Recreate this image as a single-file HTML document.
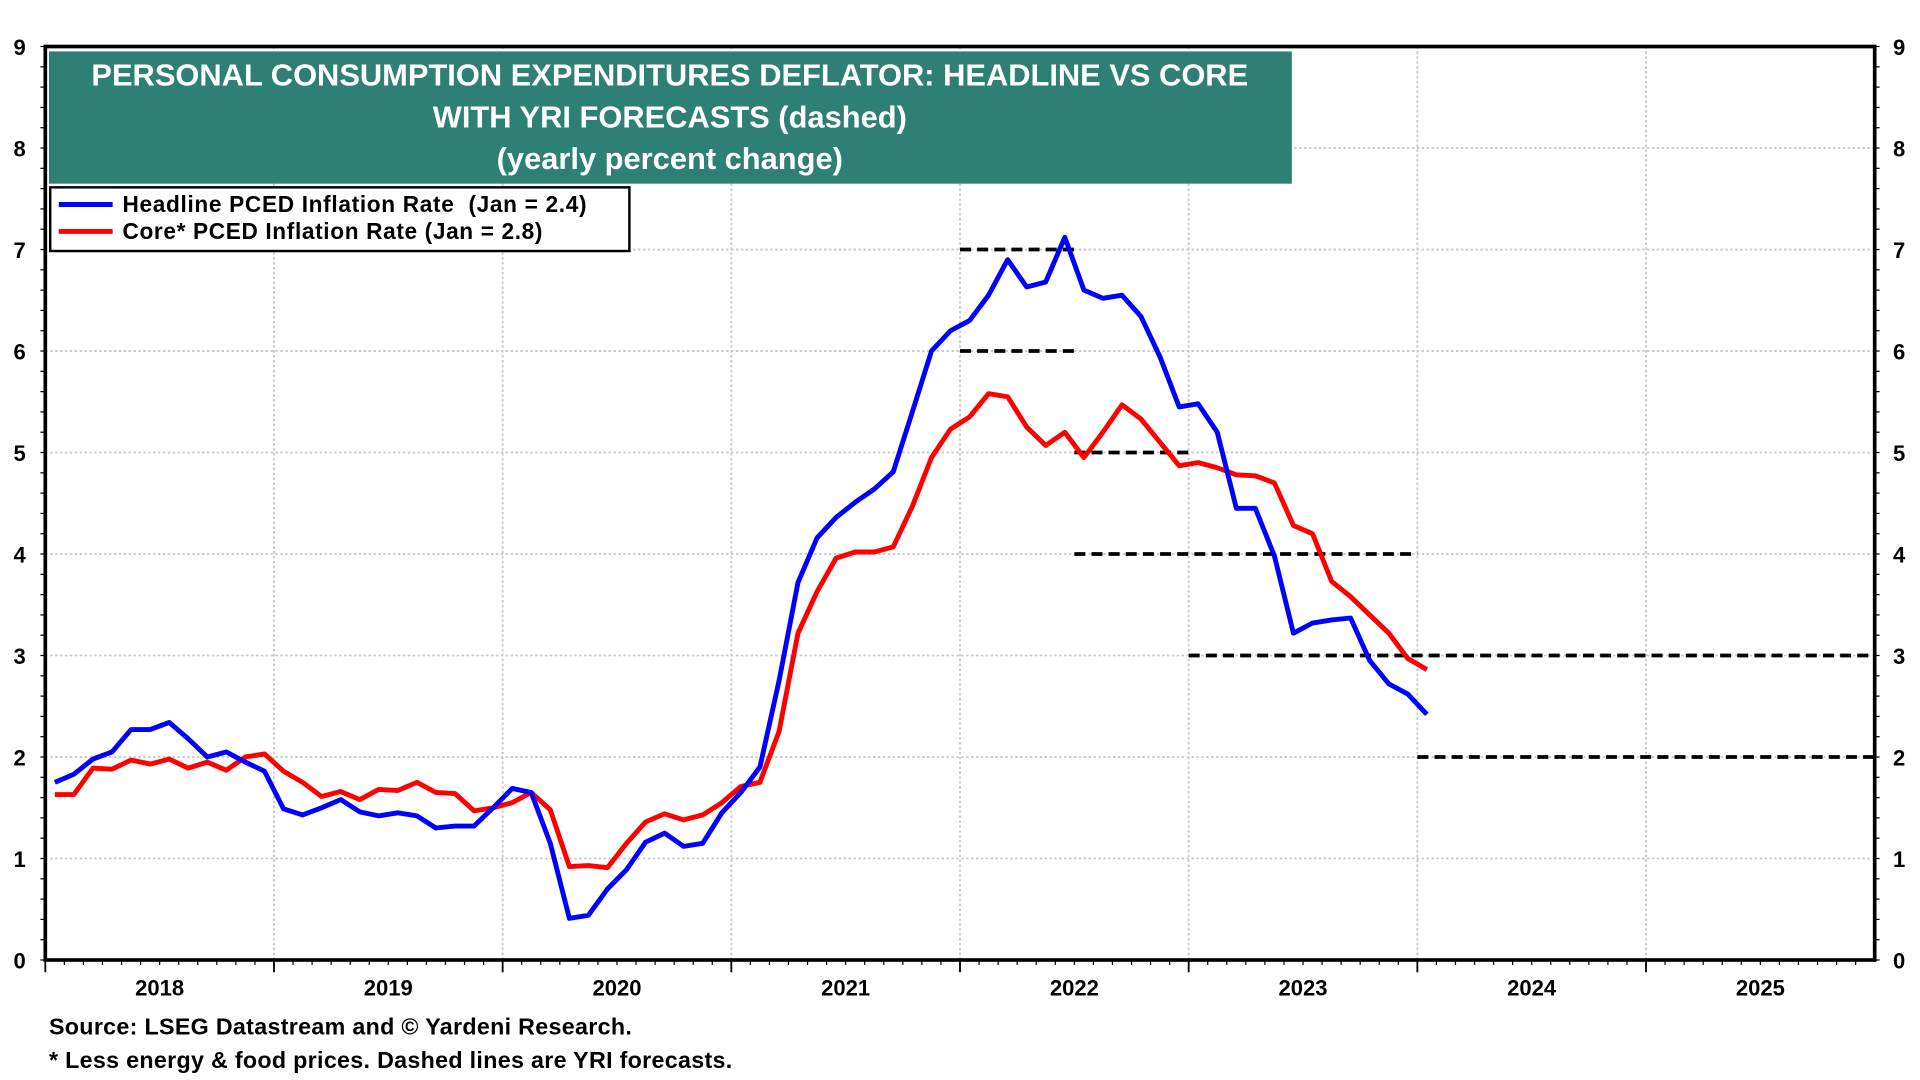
<!DOCTYPE html>
<html><head><meta charset="utf-8"><style>
html,body{margin:0;padding:0;background:#fff;width:1920px;height:1080px;overflow:hidden}
svg{display:block}
text{font-family:"Liberation Sans",sans-serif;font-weight:bold}
</style></head><body>
<svg id="chart" width="1920" height="1080" viewBox="0 0 1568 882" preserveAspectRatio="none" xmlns="http://www.w3.org/2000/svg">
<g id="grid"></g>
<g id="ticks"></g>
<g id="forecasts"></g>
<g id="series"></g>
<rect x="37" y="38" width="1494" height="746" fill="none" stroke="#000" stroke-width="3"/>
<g>
<rect x="40" y="42" width="1015" height="108" fill="#2e7f74"/>
<text x="547" y="70" text-anchor="middle" fill="#fff" font-size="25.2">PERSONAL CONSUMPTION EXPENDITURES DEFLATOR: HEADLINE VS CORE</text>
<text x="547" y="104" text-anchor="middle" fill="#fff" font-size="25.2">WITH YRI FORECASTS (dashed)</text>
<text x="547" y="138" text-anchor="middle" fill="#fff" font-size="25.2">(yearly percent change)</text>
</g>
<g>
<rect x="41" y="153" width="473" height="52" fill="#fff" stroke="#000" stroke-width="2"/>
<g><line x1="48" y1="167" x2="92" y2="167" stroke="#0000ff" stroke-width="4"/><text x="100" y="173" font-size="18.5" textLength="379" lengthAdjust="spacing" xml:space="preserve">Headline PCED Inflation Rate  (Jan = 2.4)</text></g>
<g><line x1="48" y1="189" x2="92" y2="189" stroke="#ff0000" stroke-width="4"/><text x="100" y="195" font-size="18.5" textLength="343" lengthAdjust="spacing">Core* PCED Inflation Rate (Jan = 2.8)</text></g>
</g>
<text x="40" y="845" font-size="19" textLength="476" lengthAdjust="spacing">Source: LSEG Datastream and © Yardeni Research.</text>
<text x="40" y="872" font-size="19" textLength="558" lengthAdjust="spacing">* Less energy &amp; food prices. Dashed lines are YRI forecasts.</text>
</svg>
<script>
const yTicks=[0,1,2,3,4,5,6,7,8,9];
const years=[2018,2019,2020,2021,2022,2023,2024,2025];
const headline=[1.75,1.83,1.98,2.05,2.27,2.27,2.34,2.18,2.0,2.05,1.95,1.86,
1.49,1.43,1.5,1.58,1.46,1.42,1.45,1.42,1.30,1.32,1.32,1.5,
1.69,1.65,1.15,0.41,0.44,0.70,0.89,1.16,1.25,1.12,1.15,1.45,
1.65,1.9,2.75,3.72,4.16,4.36,4.51,4.64,4.81,5.4,6.0,6.2,
6.3,6.55,6.9,6.63,6.68,7.12,6.6,6.52,6.55,6.34,5.94,5.45,
5.48,5.2,4.45,4.45,3.98,3.22,3.32,3.35,3.37,2.95,2.72,2.62,2.42];
const core=[1.63,1.63,1.89,1.88,1.97,1.93,1.98,1.89,1.95,1.87,2.0,2.03,
1.86,1.75,1.61,1.66,1.58,1.68,1.67,1.75,1.65,1.64,1.47,1.5,
1.55,1.65,1.48,0.92,0.93,0.91,1.15,1.36,1.44,1.38,1.43,1.55,
1.71,1.75,2.25,3.22,3.63,3.96,4.02,4.02,4.07,4.47,4.95,5.23,
5.35,5.58,5.55,5.25,5.07,5.2,4.95,5.2,5.47,5.33,5.1,4.87,
4.9,4.85,4.78,4.77,4.7,4.28,4.2,3.73,3.58,3.4,3.22,2.97,2.86];
const fcStart=[2022.0,2022.0,2022.5,2022.5,2023.0,2024.0];
const fcEnd=[2022.5,2022.5,2023.0,2024.0,2026.0,2026.0];
const fcValue=[7,6,5,4,3,2];
const NS='http://www.w3.org/2000/svg';
const X0=37,X1=1531,Y0=784,Y1=38,T0=2018,T1=2026,V0=0,V1=9;
const xs=t=>X0+(t-T0)/(T1-T0)*(X1-X0);
const ys=v=>Y0-(v-V0)/(V1-V0)*(Y0-Y1);
const mk=(tag,attrs,parent)=>{const e=document.createElementNS(NS,tag);for(const k in attrs)e.setAttribute(k,attrs[k]);parent.appendChild(e);return e;};
const grid=document.getElementById('grid'),ticks=document.getElementById('ticks');
yTicks.forEach(v=>{
 if(v>0&&v<9){const g=mk('line',{x1:X0,x2:X1,y1:ys(v),y2:ys(v),stroke:'#c8c8c8','stroke-width':1.5,'stroke-dasharray':'2 2'},grid);
 
 }
 const l=mk('text',{x:16,y:ys(v)+7,'text-anchor':'middle','font-size':18},ticks);l.textContent=v;
 
 
 const r=mk('text',{x:1551,y:ys(v)+7,'text-anchor':'middle','font-size':18},ticks);r.textContent=v;
 
 
});
for(let v=0;v<=9.001;v+=0.2){const y=ys(v);mk('line',{x1:X0-4,x2:X0,y1:y,y2:y,stroke:'#000','stroke-width':1},ticks);mk('line',{x1:X1,x2:X1+4,y1:y,y2:y,stroke:'#000','stroke-width':1},ticks);}
years.forEach(yr=>{
 if(yr>T0){const g=mk('line',{x1:xs(yr),x2:xs(yr),y1:Y1,y2:Y0,stroke:'#c8c8c8','stroke-width':1.5,'stroke-dasharray':'2 2'},grid);
 
 }
 const t=mk('text',{x:xs(yr+0.5),y:813,'text-anchor':'middle','font-size':18},ticks);t.textContent=yr;
 
 
 mk('line',{x1:xs(yr),x2:xs(yr),y1:Y0,y2:Y0+10,stroke:'#000','stroke-width':1.5},ticks);
 for(let m=1;m<12;m++)mk('line',{x1:xs(yr+m/12),x2:xs(yr+m/12),y1:Y0,y2:Y0+4,stroke:'#000','stroke-width':1},ticks);
});
const fc=document.getElementById('forecasts');
fcValue.forEach((v,i)=>{const l=mk('line',{x1:xs(fcStart[i]),x2:xs(fcEnd[i]),y1:ys(v),y2:ys(v),stroke:'#000','stroke-width':3,'stroke-dasharray':'9 5'},fc);
 
 });
const ser=document.getElementById('series');
function line(data,color,name){const pts=data.map((v,i)=>xs(T0+(i+0.5)/12).toFixed(1)+','+ys(v).toFixed(1)).join(' ');
 const p=mk('polyline',{points:pts,fill:'none',stroke:color,'stroke-width':4,'stroke-linejoin':'round'},ser);
 
 }
line(core,'#ff0000','core-pced-line');
line(headline,'#0000ff','headline-pced-line');
</script>
</body></html>
